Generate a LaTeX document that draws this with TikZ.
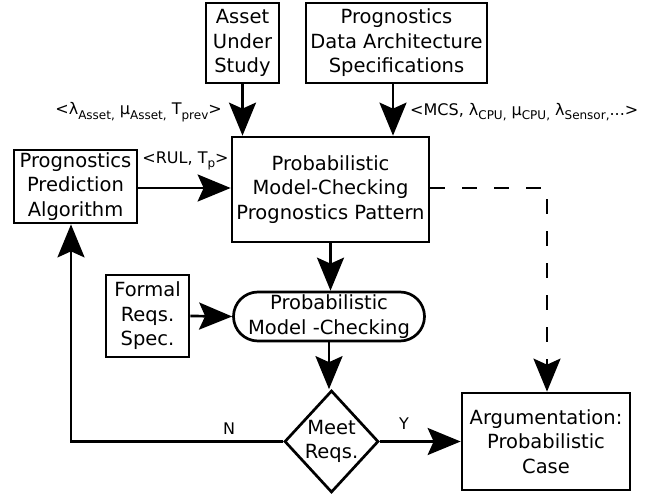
\documentclass[tikz,border=0pt]{standalone}
\usepackage{fontspec}
\setmainfont{DejaVu Sans}
\usetikzlibrary{arrows.meta,shapes.geometric,shapes.misc}
% small lowered text for subscripts inside labels
\newcommand\lowsub[1]{\raisebox{-0.28em}{\fontsize{12}{12}\selectfont #1}}
\begin{document}
\begin{tikzpicture}[x=1pt,y=-1pt,
  every node/.style={font=\fontsize{19.5}{24.5}\selectfont, align=center, inner sep=0pt},
  box/.style={draw, line width=2.7pt, rectangle},
  pill/.style={draw, line width=2.7pt, rounded rectangle},
  lbl/.style={font=\fontsize{16}{19}\selectfont},
  flow/.style={line width=2.7pt, -{Stealth[length=33pt,width=27pt,inset=6pt]}},
  dflow/.style={flow, dash pattern=on 15pt off 17pt},
]
\useasboundingbox (0,0) rectangle (658,494);

\node[box, minimum width=73, minimum height=80] (asset) at (242.5,43) {Asset\\Under\\Study};
\node[box, minimum width=181, minimum height=80] (pdas) at (396.5,43) {Prognostics\\Data Architecture\\Specifications};
\node[box, minimum width=197, minimum height=105] (main) at (330.5,189.5) {Probabilistic\\Model-Checking\\Prognostics Pattern};
\node[box, minimum width=123, minimum height=73] (ppa) at (75.5,186.5) {Prognostics\\Prediction\\Algorithm};
\node[box, minimum width=83, minimum height=82] (frs) at (147.5,316) {Formal\\Reqs.\\Spec.};
\node[pill, minimum width=191, minimum height=49] (pmc) at (329,316.5) {Probabilistic\\Model -Checking};
\node[box, minimum width=168, minimum height=97] (arg) at (546,441.5) {Argumentation:\\Probabilistic\\Case};
\node[draw, line width=2.7pt, shape=diamond, minimum width=94, minimum height=102, aspect=0.92] (dm) at (331.5,441.5) {};
\node (dmtext) at (331.5,441.5) {Meet\\Reqs.};

% data labels
\node[lbl, anchor=east] (lblasset) at (222,112) {<λ\lowsub{Asset,} μ\lowsub{Asset,} T\lowsub{prev}>};
\node[lbl, anchor=west] (lblpdas) at (410,112) {<MCS, λ\lowsub{CPU,} μ\lowsub{CPU,} λ\lowsub{Sensor,}...>};
\node[lbl] (lblrul) at (185.5,161) {<RUL, T\lowsub{p}>};
\node[lbl] (lbln) at (229,429) {N};
\node[lbl] (lbly) at (404,424) {Y};

% connectors
\draw[flow] (asset.south) -- (asset.south |- main.north);
\draw[flow] ([xshift=-3.5]pdas.south) -- ([xshift=-3.5]pdas.south |- main.north);
\draw[flow] (ppa.east |- 0,188) -- (main.west |- 0,188);
\draw[flow] (main.south) -- (main.south |- pmc.north);
\draw[flow] (frs.east) -- (pmc.west);
\draw[flow] (pmc.south) -- (pmc.south |- dm.north);
\draw[flow] (dm.east) -- (arg.west);
\draw[flow] (dm.west) -| ([xshift=-4.5]ppa.south);
\coordinate (bend) at (547,188);
\draw[dflow] (main.east |- bend) -- (bend) -- (bend |- arg.north);
\end{tikzpicture}
\end{document}
